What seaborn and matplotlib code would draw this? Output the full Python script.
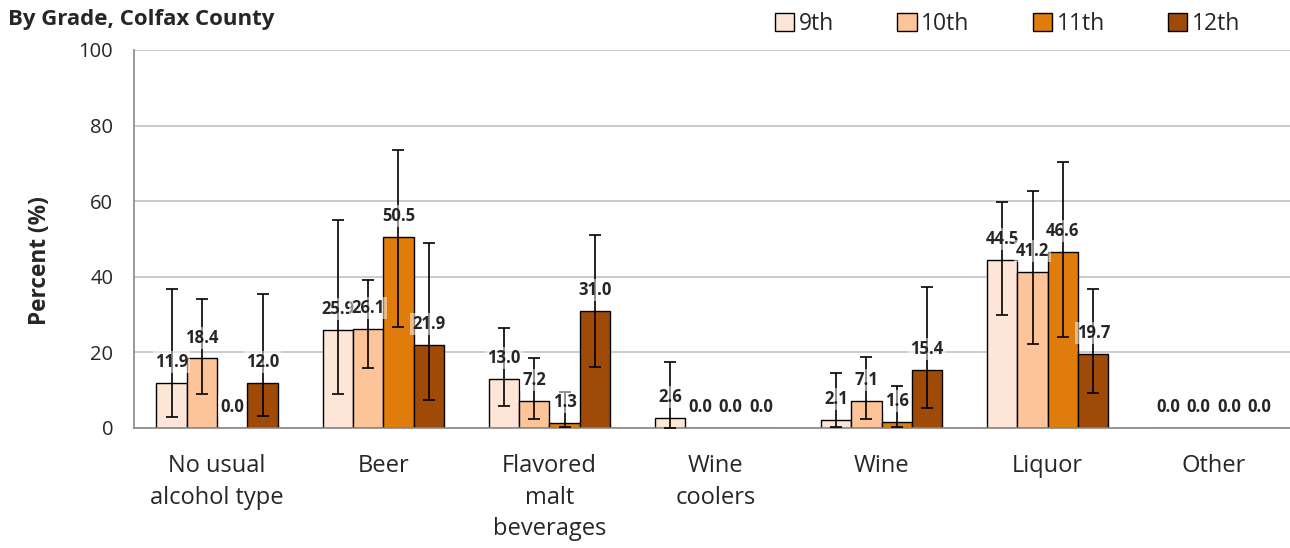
import numpy as np
import pandas as pd
import seaborn as sns
import matplotlib.pyplot as plt
from matplotlib.ticker import FixedLocator

# categories and grades
categories = ["No usual\nalcohol type", "Beer", "Flavored\nmalt\nbeverages",
              "Wine\ncoolers", "Wine", "Liquor", "Other"]
grades = ["9th", "10th", "11th", "12th"]

# percent values per grade
pct_9th = [11.9, 25.9, 13.0, 2.6, 2.1, 44.5, 0.0]
pct_10th = [18.4, 26.1, 7.2, 0.0, 7.1, 41.2, 0.0]
pct_11th = [0.0, 50.5, 1.3, 0.0, 1.6, 46.6, 0.0]
pct_12th = [12.0, 21.9, 31.0, 0.0, 15.4, 19.7, 0.0]

# confidence interval bounds
lo_9th = [3.0, 9.0, 5.8, 0.0, 0.3, 30.0, 0.0]
hi_9th = [36.8, 55.0, 26.5, 17.5, 14.6, 59.8, 0.0]
lo_10th = [9.0, 16.0, 2.5, 0.0, 2.4, 22.3, 0.0]
hi_10th = [34.0, 39.2, 18.5, 0.0, 18.8, 62.6, 0.0]
lo_11th = [0.0, 26.8, 0.3, 0.0, 0.3, 24.0, 0.0]
hi_11th = [0.0, 73.6, 9.5, 0.0, 11.1, 70.3, 0.0]
lo_12th = [3.3, 7.4, 16.1, 0.0, 5.4, 9.2, 0.0]
hi_12th = [35.4, 49.0, 51.0, 0.0, 37.2, 36.9, 0.0]

colors = ["#FDE5D7", "#FCC498", "#E07C0B", "#A04A07"]

pcts = [pct_9th, pct_10th, pct_11th, pct_12th]
los = [lo_9th, lo_10th, lo_11th, lo_12th]
his = [hi_9th, hi_10th, hi_11th, hi_12th]

rows = []
for g, vals in zip(grades, pcts):
    for c, v in zip(categories, vals):
        rows.append({"category": c, "grade": g, "percent": v})
df = pd.DataFrame(rows)

sns.set_style("white")
plt.rcParams['font.family'] = ['Open Sans', 'DejaVu Sans']

fig = plt.figure(figsize=(12.9, 5.48), dpi=100)
ax = fig.add_axes([0.1039, 0.219, 0.9015, 0.6898])

sns.barplot(data=df, x="category", y="percent", hue="grade", order=categories,
            hue_order=grades, palette=dict(zip(grades, colors)), saturation=1,
            width=0.73, edgecolor="black", linewidth=1.0, errorbar=None, ax=ax,
            zorder=2)

# error bars and value labels
for cont, vals, lo, hi in zip(ax.containers, pcts, los, his):
    for bar, v, l, h in zip(cont.patches, vals, lo, hi):
        xc = bar.get_x() + bar.get_width() / 2
        if h > l:
            ax.errorbar(xc, v, yerr=[[v - l], [h - v]], fmt="none", ecolor="black",
                        elinewidth=1.2, capsize=4.3, capthick=1.2, zorder=3)
        ax.annotate(f"{v:.1f}", (xc, v), xytext=(0, 15), textcoords="offset points",
                    ha="center", va="center", fontsize=12, fontweight="bold",
                    zorder=4,
                    bbox=dict(facecolor="white", alpha=0.5, edgecolor="none", pad=1.5))

ax.set_ylim(0, 100)
ax.set_xlim(-0.5, 6.5)
ax.set_yticks([0, 20, 40, 60, 80, 100])
ax.yaxis.grid(True, color="#C8C8C8", linewidth=1.3)
ax.set_axisbelow(True)
ax.set_xlabel("")
ax.set_ylabel("")

ax.xaxis.set_minor_locator(FixedLocator(np.arange(-0.5, 7.0, 1.0)))
ax.tick_params(axis="x", which="major", length=0, pad=19, labelsize=17)
ax.tick_params(axis="x", which="minor", length=6, color="#888888", width=1.2, direction="out")
ax.tick_params(axis="y", length=5, color="#888888", width=1.2, direction="out",
               labelsize=14.5, pad=10)
for lbl in ax.get_xticklabels():
    lbl.set_linespacing(1.4)
    lbl.set_va("top")

for s in ["top", "right"]:
    ax.spines[s].set_visible(False)
for s in ["left", "bottom"]:
    ax.spines[s].set_color("#888888")
    ax.spines[s].set_linewidth(1.2)

handles, labels = ax.get_legend_handles_labels()
ax.legend(handles, labels, ncol=4, loc="center", bbox_to_anchor=(0.781, 0.956),
          bbox_transform=fig.transFigure, frameon=False, fontsize=16.5,
          handlelength=0.85, handleheight=0.85, handletextpad=0.2, columnspacing=2.75,
          borderaxespad=0)

fig.text(0.006, 0.965, "By Grade, Colfax County", fontsize=16, fontweight="bold",
         ha="left", va="center")
fig.text(0.031, 1 - 261 / 548, "Percent (%)", fontsize=16.3, fontweight="bold",
         rotation=90, ha="center", va="center")

fig.savefig("out.png", dpi=100)
